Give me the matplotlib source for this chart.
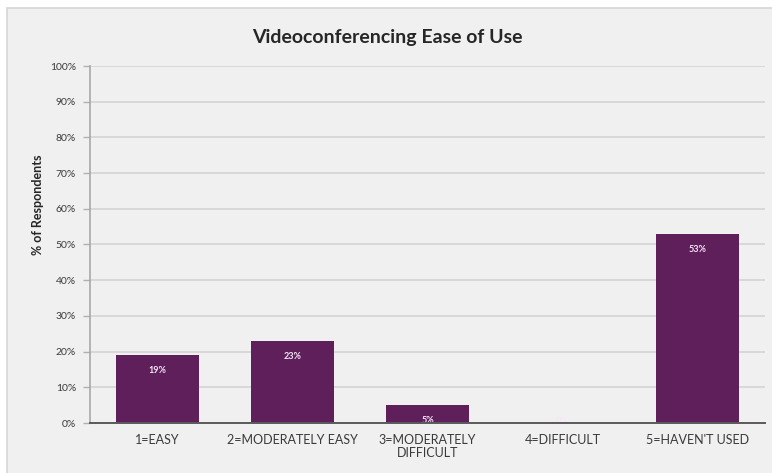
import matplotlib
matplotlib.use("Agg")
import matplotlib.pyplot as plt
from matplotlib.patches import Rectangle
from matplotlib.ticker import MultipleLocator, PercentFormatter

plt.rcParams['font.family'] = ['Lato', 'DejaVu Sans']

categories = ["1=EASY", "2=MODERATELY EASY", "3=MODERATELY\nDIFFICULT",
              "4=DIFFICULT", "5=HAVEN'T USED"]
percents = [19, 23, 5, 0, 53]

bar_color = "#5e1f5b"
bg = "#f0f0f0"

fig = plt.figure(figsize=(7.72, 4.73), dpi=100, facecolor="white")
# chart panel with thin border, screenshot-style white margin on top/left
fig.patches.append(Rectangle((7 / 772, -0.01), 1.0, 1 - 8 / 473 + 0.01,
                             transform=fig.transFigure, facecolor=bg,
                             edgecolor="#d6d6d6", linewidth=1.2, zorder=-5))

ax = fig.add_axes([90 / 772, 50 / 473, 675 / 772, 357 / 473])
ax.patch.set_visible(False)

x = range(len(categories))
bars = ax.bar(x, percents, width=0.61, color=bar_color, zorder=3)

for xi, v in zip(x, percents):
    off = -11 if v > 2 else 1
    ax.annotate(f"{v}%", (xi, v), xytext=(0, off), textcoords="offset points",
                ha="center", va="center", fontsize=6.5, fontweight="bold",
                color="#f6e6f6", zorder=4)

ax.set_xlim(-0.5, len(categories) - 0.5)
ax.set_ylim(0, 100)
ax.yaxis.set_major_locator(MultipleLocator(10))
ax.yaxis.set_major_formatter(PercentFormatter(decimals=0))
ax.grid(axis="y", color="#d4d4d4", linewidth=1.2, zorder=0)
ax.set_axisbelow(True)

ax.set_xticks(list(x))
ax.set_xticklabels(categories, fontsize=9, color="#3a3a3a", linespacing=1.1)
ax.tick_params(axis="x", length=0, pad=8)
ax.tick_params(axis="y", length=5, width=1, color="#b0b0b0", labelsize=7.5,
               labelcolor="#3a3a3a", pad=5)

for side in ("top", "right"):
    ax.spines[side].set_visible(False)
ax.spines["left"].set_color("#a8a8a8")
ax.spines["left"].set_linewidth(1.2)
ax.spines["bottom"].set_color("#5a5a5a")
ax.spines["bottom"].set_linewidth(1.4)
ax.spines["bottom"].set_zorder(5)

ax.set_ylabel("% of Respondents", fontsize=9, fontweight="bold",
              color="#262626")
ax.yaxis.set_label_coords(-0.068, 0.61)
fig.text(387 / 772, 1 - 38 / 473, "Videoconferencing Ease of Use",
         ha="center", va="center", fontsize=14, fontweight="bold",
         color="#262626")

fig.savefig("out.png", dpi=100, facecolor=fig.get_facecolor())
